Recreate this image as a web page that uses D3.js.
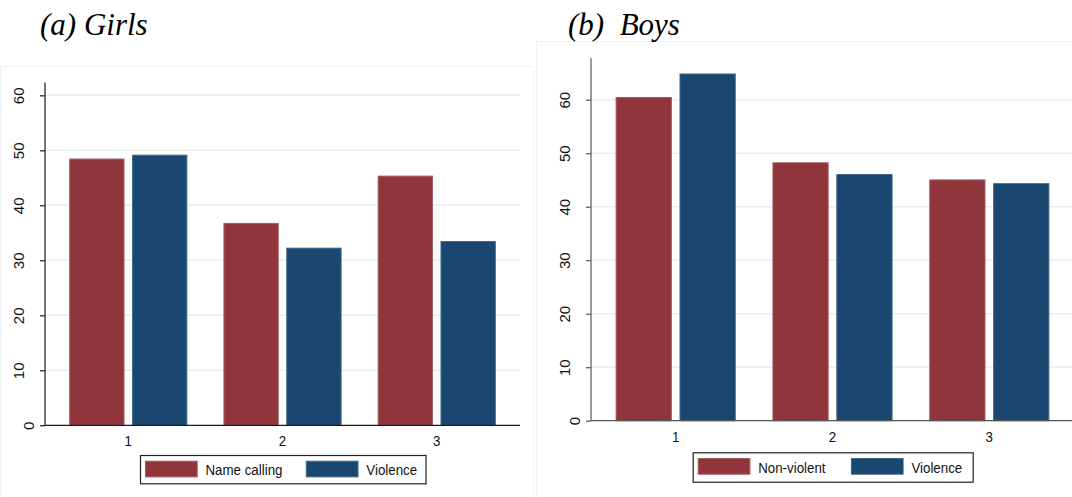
<!DOCTYPE html>
<html>
<head>
<meta charset="utf-8">
<script src="https://cdn.jsdelivr.net/npm/d3@7"></script>
<style>
  html, body { margin: 0; padding: 0; background: #fff; }
  svg { display: block; }
  text { font-family: "Liberation Sans", Arial, sans-serif; }
</style>
</head>
<body>
<svg id="chart" width="1072" height="497"></svg>
<script>
// ---------------- data ----------------
const categories = [1, 2, 3];
const yTicks = [0, 10, 20, 30, 40, 50, 60];

const girlsSeries = ["Name calling", "Violence"];
const girlsNameCalling = [48.5, 36.8, 45.4];
const girlsViolence = [49.2, 32.3, 33.5];

const boysSeries = ["Non-violent", "Violence"];
const boysNonViolent = [60.5, 48.3, 45.1];
const boysViolence = [64.9, 46.1, 44.4];

const seriesColors = ["#90353b", "#1a476f"];
const seriesStroke = ["#a65a5f", "#3f6689"];

// ---------------- layout ----------------
const svg = d3.select("#chart");
const SQ = 0.86; // horizontal squeeze of text in the reference

const panels = [
  {
    title: "(a) Girls", titleX: 40, titleY: 35,
    frame: {x: 0.5, y: 66.5, w: 533.5, h: 440},
    x0: 45, x1: 520, y0: 425.3, yTop: 82.4, yMax: 62.35,
    axisColor: "#1a1a1a",
    series: girlsSeries, values: [girlsNameCalling, girlsViolence],
    legend: {x: 140, y: 455, w: 285.5, h: 28.3, item2: 160.8}
  },
  {
    title: "(b)  Boys", titleX: 568, titleY: 35,
    frame: {x: 536.5, y: 41.5, w: 540, h: 470},
    x0: 591, x1: 1074, y0: 420.7, yTop: 58.3, yMax: 67.74,
    axisColor: "#555",
    series: boysSeries, values: [boysNonViolent, boysViolence],
    legend: {x: 692.7, y: 452.3, w: 280, h: 29.4, item2: 153.2}
  }
];

panels.forEach(p => {
  const g = svg.append("g");

  // faint panel frame
  g.append("rect")
    .attr("x", p.frame.x).attr("y", p.frame.y)
    .attr("width", p.frame.w).attr("height", p.frame.h)
    .attr("fill", "none").attr("stroke", "#eef2f4").attr("stroke-width", 1);

  // title
  g.append("text")
    .attr("x", p.titleX).attr("y", p.titleY)
    .style("font-family", '"Liberation Serif", "Times New Roman", serif')
    .style("font-style", "italic")
    .style("font-size", "31px")
    .style("white-space", "pre")
    .attr("fill", "#000")
    .text(p.title);

  const x = d3.scaleBand()
    .domain(categories)
    .range([p.x0, p.x1])
    .paddingInner(0.234)
    .paddingOuter(0.157);

  const xs = d3.scaleBand()
    .domain(d3.range(p.series.length))
    .range([0, x.bandwidth()])
    .paddingInner(0.12);

  const y = d3.scaleLinear()
    .domain([0, p.yMax])
    .range([p.y0, p.yTop]);

  // gridlines
  g.append("g").selectAll("line")
    .data(yTicks.filter(t => t > 0))
    .join("line")
    .attr("x1", p.x0).attr("x2", p.x1)
    .attr("y1", d => y(d)).attr("y2", d => y(d))
    .attr("stroke", "#e6eef0").attr("stroke-width", 1.5);

  // bars
  p.series.forEach((s, si) => {
    g.append("g").selectAll("rect")
      .data(categories.map((c, i) => ({c, v: p.values[si][i]})))
      .join("rect")
      .attr("x", d => x(d.c) + xs(si) + 0.5)
      .attr("width", xs.bandwidth() - 1)
      .attr("y", d => y(d.v) + 0.5)
      .attr("height", d => y(0) - y(d.v) - 0.5)
      .attr("fill", seriesColors[si])
      .attr("stroke", seriesStroke[si])
      .attr("stroke-width", 1);
  });

  // y axis
  const yAxis = g.append("g")
    .attr("transform", `translate(${p.x0},0)`)
    .call(d3.axisLeft(y).tickValues(yTicks).tickSize(5).tickFormat(d3.format("d")));
  yAxis.select(".domain").attr("stroke", p.axisColor).attr("stroke-width", 1.2)
    .attr("d", `M0,${p.yTop}V${p.y0}`);
  yAxis.selectAll(".tick line").attr("stroke", p.axisColor).attr("stroke-width", 1.2);
  yAxis.selectAll(".tick text")
    .attr("x", null).attr("dy", null)
    .attr("text-anchor", "middle")
    .attr("fill", "#111")
    .style("font-size", "15px")
    .attr("transform", d => `translate(${-5.5 - 10.5 * String(d).length},0) rotate(-90)`)
    .attr("dy", "0.35em");

  // x axis
  const xAxis = g.append("g")
    .attr("transform", `translate(0,${p.y0})`)
    .call(d3.axisBottom(x).tickSize(0).tickSizeOuter(0));
  xAxis.select(".domain").attr("stroke", p.axisColor).attr("stroke-width", 1.3)
    .attr("d", `M${p.x0},0H${p.x1}`);
  xAxis.selectAll(".tick text")
    .attr("y", null).attr("dy", null)
    .attr("fill", "#111")
    .style("font-size", "15.5px")
    .attr("transform", `translate(0,21) scale(${SQ},1)`);

  // legend
  const L = p.legend;
  const lg = g.append("g");
  lg.append("rect")
    .attr("x", L.x + 0.5).attr("y", L.y + 0.5)
    .attr("width", L.w).attr("height", L.h)
    .attr("fill", "#fff").attr("stroke", "#222").attr("stroke-width", 1.2);
  p.series.forEach((s, si) => {
    const ix = L.x + 5.5 + si * L.item2;
    lg.append("rect")
      .attr("x", ix).attr("y", L.y + 6.2)
      .attr("width", 51.7).attr("height", 15.7)
      .attr("fill", seriesColors[si])
      .attr("stroke", seriesStroke[si]).attr("stroke-width", 1);
    lg.append("text")
      .attr("transform", `translate(${ix + 60},${L.y + 20.2}) scale(${SQ},1)`)
      .attr("fill", "#111")
      .style("font-size", "15.5px")
      .text(s);
  });
});
</script>
</body>
</html>
